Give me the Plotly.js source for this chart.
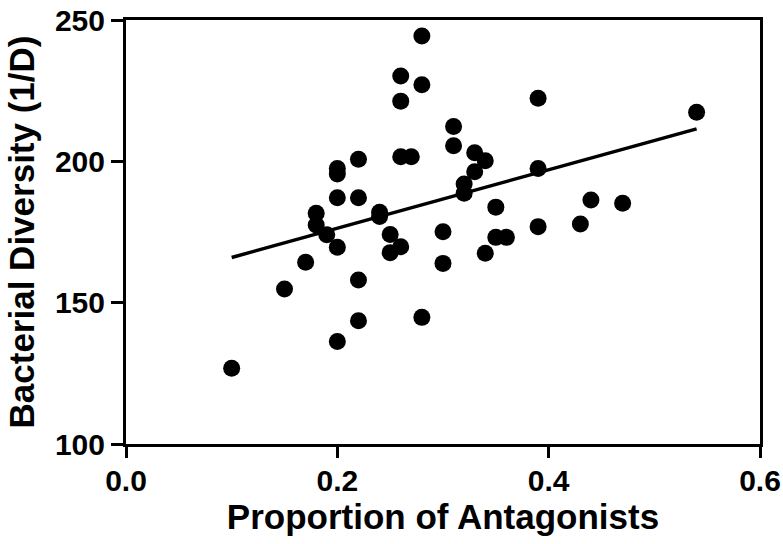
<!DOCTYPE html>
<html>
<head>
<meta charset="utf-8">
<script src="https://cdn.plot.ly/plotly-3.0.1.min.js"></script>
<style>html,body{margin:0;padding:0;background:#fff;}#chart{width:783px;height:544px;}</style>
</head>
<body>
<div id="chart"></div>
<script>
var antagonists = [0.10,0.15,0.17,0.18,0.18,0.19,0.20,0.20,0.20,0.20,0.20,0.22,0.22,0.22,0.22,0.24,0.24,0.25,0.25,0.26,0.26,0.26,0.26,0.27,0.28,0.28,0.28,0.30,0.30,0.31,0.31,0.32,0.32,0.33,0.33,0.34,0.34,0.35,0.35,0.36,0.39,0.39,0.39,0.43,0.44,0.47,0.54];
var diversity = [126.8,154.8,164.3,181.6,177.5,174.0,197.5,195.5,187.1,169.6,136.3,200.7,187.1,158.0,143.6,182.0,180.5,174.1,167.7,230.2,221.3,201.6,169.8,201.6,244.3,227.1,144.8,175.1,163.9,212.3,205.5,192.0,188.7,203.0,196.3,200.2,167.5,183.8,173.1,173.1,222.3,197.5,176.9,177.8,186.3,185.2,217.4];
var fitX = [0.10, 0.54];
var fitY = [166.0, 211.5];
var xTicks = [0.0, 0.2, 0.4, 0.6];
var xTickText = ['0.0', '0.2', '0.4', '0.6'];
var yTicks = [100, 150, 200, 250];
var yTickText = ['100', '150', '200', '250'];

var font = 'Liberation Sans, Arial, sans-serif';
var data = [
  {x: antagonists, y: diversity, type: 'scatter', mode: 'markers',
   marker: {color: '#000', size: 17, line: {width: 0}}},
  {x: fitX, y: fitY, type: 'scatter', mode: 'lines',
   line: {color: '#000', width: 3.5}}
];
var layout = {
  width: 783, height: 544,
  margin: {l: 126, r: 23, t: 20, b: 100, pad: 0},
  paper_bgcolor: '#fff', plot_bgcolor: '#fff',
  showlegend: false,
  font: {family: font, color: '#000'},
  xaxis: {
    range: [0, 0.6], tickmode: 'array', tickvals: xTicks, ticktext: xTickText,
    showgrid: false, zeroline: false,
    showline: true, linecolor: '#000', linewidth: 3, mirror: true,
    ticks: 'outside', ticklen: 11, tickwidth: 3, tickcolor: '#000',
    tickfont: {family: font, size: 30, weight: 700, color: '#000'},
    ticklabelstandoff: -3,
    automargin: false,
    title: {text: 'Proportion of Antagonists', font: {family: font, size: 35, weight: 700, color: '#000'}, standoff: 8}
  },
  yaxis: {
    range: [100, 250], tickmode: 'array', tickvals: yTicks, ticktext: yTickText,
    showgrid: false, zeroline: false,
    showline: true, linecolor: '#000', linewidth: 3, mirror: true,
    ticks: 'outside', ticklen: 12, tickwidth: 3, tickcolor: '#000',
    tickfont: {family: font, size: 30, weight: 700, color: '#000'},
    automargin: false,
    title: {text: 'Bacterial Diversity (1/D)', font: {family: font, size: 35, weight: 700, color: '#000'}, standoff: 10}
  }
};
Plotly.newPlot('chart', data, layout, {displayModeBar: false, staticPlot: true});
</script>
</body>
</html>
